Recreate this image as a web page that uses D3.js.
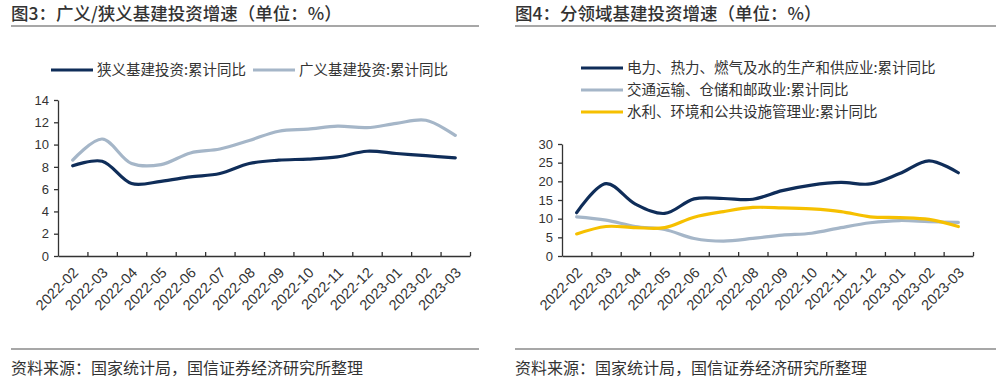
<!DOCTYPE html>
<html><head><meta charset="utf-8">
<script src="https://cdn.jsdelivr.net/npm/d3@7"></script>
<style>
html,body{margin:0;padding:0;background:#fff;}
svg{display:block;}
</style></head>
<body>
<svg id="c" width="1000" height="381"></svg>
<script>
const months = ["2022-02","2022-03","2022-04","2022-05","2022-06","2022-07","2022-08","2022-09","2022-10","2022-11","2022-12","2023-01","2023-02","2023-03"];
// Fig 3
const narrowInfra = [8.1,8.5,6.5,6.7,7.1,7.4,8.3,8.6,8.7,8.9,9.4,9.2,9.0,8.8];
const broadInfra  = [8.6,10.5,8.3,8.2,9.25,9.6,10.37,11.2,11.39,11.65,11.52,11.9,12.18,10.82];
const leftNames = ["狭义基建投资:累计同比","广义基建投资:累计同比"];
const leftTicks = [0,2,4,6,8,10,12,14];
// Fig 4
const power     = [11.6,19.4,13.9,11.4,15.3,15.4,15.2,17.5,19.0,19.7,19.3,22.1,25.5,22.3];
const transport = [10.5,9.6,7.9,7.1,4.7,4.0,4.7,5.6,6.1,7.6,8.9,9.5,9.2,9.0];
const water     = [5.9,7.9,7.6,7.6,10.4,11.9,13.0,12.9,12.6,11.9,10.5,10.3,9.8,7.9];
const rightNames = ["电力、热力、燃气及水的生产和供应业:累计同比","交通运输、仓储和邮政业:累计同比","水利、环境和公共设施管理业:累计同比"];
const rightTicks = [0,5,10,15,20,25,30];

const NAVY = "#0f2d59", LIGHT = "#a5b6c8", YELLOW = "#f6c000";
const CJK = "'Noto Sans CJK SC','Noto Sans',sans-serif";
const NUM = "'Liberation Sans',Arial,sans-serif";

const svg = d3.select("#c");

function panel(o){
  const g = svg.append("g");
  // title
  g.append("text").attr("x",o.left).attr("y",20).text(o.title)
    .attr("font-family",CJK).attr("font-size",17.5).attr("font-weight",500).attr("fill","#333");
  g.append("line").attr("x1",o.left).attr("x2",o.right).attr("y1",26).attr("y2",26)
    .attr("stroke","#8a8a8a").attr("stroke-width",1.5);
  // footer
  g.append("line").attr("x1",o.left).attr("x2",o.right).attr("y1",349).attr("y2",349)
    .attr("stroke","#8a8a8a").attr("stroke-width",1.5);
  g.append("text").attr("x",o.left).attr("y",374).text("资料来源：国家统计局，国信证券经济研究所整理")
    .attr("font-family",CJK).attr("font-size",16).attr("fill","#333");

  const xb = d3.scaleBand().domain(months).range([o.x0,o.x1]).padding(0);
  const xi = d3.scaleLinear().domain([0,months.length]).range([o.x0,o.x1]);
  const y = d3.scaleLinear().domain([0,o.ymax]).range([256,o.ytop]);

  // y axis
  const ya = g.append("g").attr("transform",`translate(${o.x0},0)`)
    .call(d3.axisLeft(y).tickValues(o.ticks).tickSize(4).tickSizeOuter(0).tickPadding(5));
  ya.selectAll("text").attr("font-family",NUM).attr("font-size",13).attr("fill","#333");
  ya.selectAll("line,path").attr("stroke","#333").attr("stroke-width",1.3);

  // x axis
  const xa = g.append("g").attr("transform","translate(0,256)")
    .call(d3.axisBottom(xi).tickValues(d3.range(1,months.length+1)).tickSizeInner(-4).tickSizeOuter(0).tickFormat(""));
  xa.selectAll("line,path").attr("stroke","#333").attr("stroke-width",1.3);
  g.append("g").selectAll("text").data(months).join("text")
    .attr("transform",d=>`translate(${xb(d)+xb.bandwidth()/2+3},270) rotate(-45)`)
    .attr("text-anchor","end").attr("dy","0.35em")
    .attr("font-family",NUM).attr("font-size",14.5).attr("fill","#333").text(d=>d);

  const line = d3.line().x((d,i)=>xb(months[i])+xb.bandwidth()/2).y(d=>y(d)).curve(d3.curveCatmullRom.alpha(0.5));
  o.series.forEach(s=>{
    g.append("path").datum(s.v).attr("d",line).attr("fill","none")
      .attr("stroke",s.c).attr("stroke-width",3.2).attr("stroke-linecap","round").attr("stroke-linejoin","round");
  });

  // legend
  o.legend.forEach(l=>{
    g.append("line").attr("x1",l.x).attr("x2",l.x+42).attr("y1",l.y).attr("y2",l.y)
      .attr("stroke",l.c).attr("stroke-width",3.2);
    g.append("text").attr("x",l.x+46).attr("y",l.y).attr("dy","0.36em").text(l.t)
      .attr("font-family",CJK).attr("font-size",14.5).attr("fill","#333");
  });
}

panel({
  title:"图3：广义/狭义基建投资增速（单位：%）", left:11, right:479,
  x0:58, x1:470, ymax:14, ytop:100, ticks:leftTicks,
  series:[{v:broadInfra,c:LIGHT},{v:narrowInfra,c:NAVY}],
  legend:[{x:51,y:70,c:NAVY,t:leftNames[0]},{x:253,y:70,c:LIGHT,t:leftNames[1]}]
});
panel({
  title:"图4：分领域基建投资增速（单位：%）", left:515, right:996,
  x0:562, x1:973, ymax:30, ytop:144, ticks:rightTicks,
  series:[{v:transport,c:LIGHT},{v:water,c:YELLOW},{v:power,c:NAVY}],
  legend:[{x:581,y:68,c:NAVY,t:rightNames[0]},{x:581,y:90,c:LIGHT,t:rightNames[1]},{x:581,y:112,c:YELLOW,t:rightNames[2]}]
});
</script>
</body></html>
